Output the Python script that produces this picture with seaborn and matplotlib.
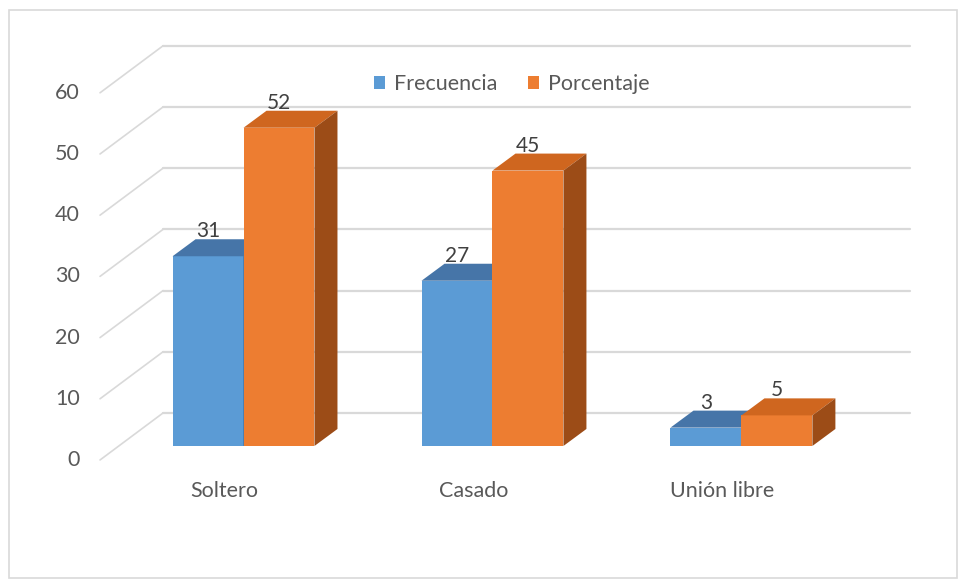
import pandas as pd
import matplotlib.pyplot as plt
from matplotlib.patches import Polygon, Rectangle
import seaborn as sns

# Chart data
categories = ['Soltero', 'Casado', 'Unión libre']
series = ['Frecuencia', 'Porcentaje']
frecuencia = [31, 27, 3]
porcentaje = [52, 45, 5]
y_ticks = [0, 10, 20, 30, 40, 50, 60]

df = pd.DataFrame({
    'Estado': categories * 2,
    'Serie': [series[0]] * len(categories) + [series[1]] * len(categories),
    'Valor': frecuencia + porcentaje,
})

# Excel style colours: front, top, side
front = {'Frecuencia': '#5B9BD5', 'Porcentaje': '#ED7D31'}
top = {'Frecuencia': '#4675A8', 'Porcentaje': '#CF661F'}
side = {'Frecuencia': '#3A6290', 'Porcentaje': '#9C4C17'}
grid_color = '#D9D9D9'
text_color = '#595959'

sns.set_theme(style='white')
plt.rcParams['font.family'] = ['Lato', 'DejaVu Sans']

fig = plt.figure(figsize=(9.6, 5.81), dpi=100)
ax = fig.add_axes([0.124, 0.2324, 0.778, 0.632])

sns.barplot(data=df, x='Estado', y='Valor', hue='Serie', palette=front,
            width=0.57, saturation=1, ax=ax, legend=False)
ax.set_xlim(-0.5, 2.5)
ax.set_ylim(0, 60)
ax.set_axis_off()


def px_to_data(dx, dy):
    inv = ax.transData.inverted()
    x0, y0 = inv.transform((0, 0))
    x1, y1 = inv.transform((dx, dy))
    return x1 - x0, y1 - y0


# oblique offsets in pixels
bar_dx, bar_dy = px_to_data(23, 17)      # bar depth
wall_dx, wall_dy = px_to_data(44, 33)    # back wall
edge_dx, edge_dy = px_to_data(-19, -14)  # front edge of floor / side wall
xmin, xmax = ax.get_xlim()

# back wall gridlines and side wall diagonals
lx, _ = px_to_data(-20, 0)
for t in y_ticks:
    ax.plot([xmin + wall_dx, xmax + wall_dx], [t + wall_dy, t + wall_dy],
            color=grid_color, lw=1.6, clip_on=False, zorder=0)
    ax.plot([xmin + edge_dx, xmin + wall_dx], [t + edge_dy, t + wall_dy],
            color=grid_color, lw=1.2, clip_on=False, zorder=0)
    ax.text(xmin + edge_dx + lx, t + edge_dy, str(t), ha='right', va='center',
            fontsize=15.5, color=text_color)

# category labels at the front edge of the floor
_, cy = px_to_data(0, -31)
for i, cat in enumerate(categories):
    ax.text(i + edge_dx, edge_dy + cy, cat, ha='center', va='center',
            fontsize=15.5, color=text_color)

# 3D faces for each bar, drawn left to right
bars = sorted(ax.patches, key=lambda p: p.get_x())
_, ly = px_to_data(0, 25)
for i, p in enumerate(bars):
    x0, w, h = p.get_x(), p.get_width(), p.get_height()
    name = series[0] if abs(p.get_facecolor()[2] - 0.835) < 0.05 else series[1]
    z = 2 + i * 0.1
    p.set_zorder(z)
    p.set_edgecolor('none')
    ax.add_patch(Polygon([(x0, h), (x0 + w, h), (x0 + w + bar_dx, h + bar_dy),
                          (x0 + bar_dx, h + bar_dy)], closed=True,
                         facecolor=top[name], edgecolor='none', zorder=z, clip_on=False))
    ax.add_patch(Polygon([(x0 + w, 0), (x0 + w + bar_dx, bar_dy),
                          (x0 + w + bar_dx, h + bar_dy), (x0 + w, h)], closed=True,
                         facecolor=side[name], edgecolor='none', zorder=z, clip_on=False))
    ax.text(x0 + w / 2, h + ly, f'{h:.0f}', ha='center', va='center',
            fontsize=15, color='#404040', zorder=10)

# legend
handles = [Rectangle((0, 0), 1, 1, facecolor=front[s], edgecolor='none') for s in series]
fig.legend(handles, series, loc='center', bbox_to_anchor=(0.533, 0.855), ncol=2,
           frameon=False, handlelength=0.55, handleheight=0.55, handletextpad=0.4,
           columnspacing=1.4, prop={'size': 15.5}, labelcolor=text_color)

# chart area border
fig.patches.append(Rectangle((9 / 960, 3 / 581), 948 / 960, 568 / 581,
                             transform=fig.transFigure, fill=False,
                             edgecolor='#D9D9D9', lw=1.2))

fig.savefig('out.png', dpi=100)
